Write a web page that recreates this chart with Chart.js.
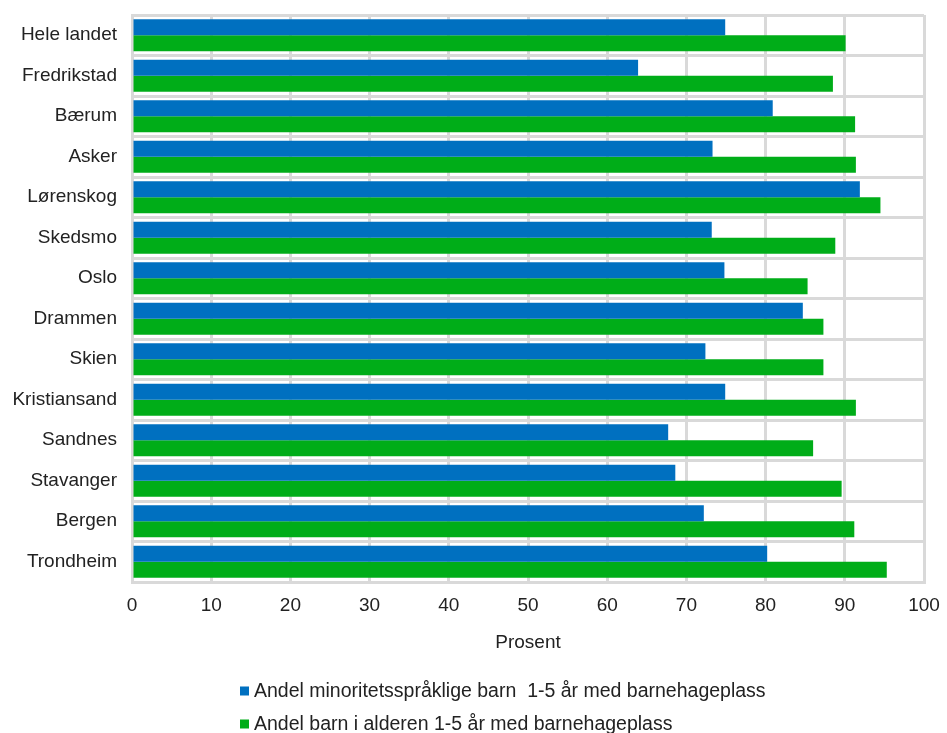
<!DOCTYPE html>
<html>
<head>
<meta charset="utf-8">
<script src="https://cdn.jsdelivr.net/npm/chart.js@4"></script>
<style>
html,body{margin:0;padding:0;background:#fff;}
#c{display:block;}
</style>
</head>
<body>
<canvas id="c" width="947" height="733"></canvas>
<script>
const categories = ['Hele landet','Fredrikstad','Bærum','Asker','Lørenskog','Skedsmo','Oslo','Drammen','Skien','Kristiansand','Sandnes','Stavanger','Bergen','Trondheim'];
const minorityShare = [74.9, 63.9, 80.9, 73.3, 91.9, 73.2, 74.8, 84.7, 72.4, 74.9, 67.7, 68.6, 72.2, 80.2];
const allShare = [90.1, 88.5, 91.3, 91.4, 94.5, 88.8, 85.3, 87.3, 87.3, 91.4, 86.0, 89.6, 91.2, 95.3];
const seriesLabels = ['Andel minoritetsspråklige barn  1-5 år med barnehageplass', 'Andel barn i alderen 1-5 år med barnehageplass'];
const seriesColors = ['#0070c0', '#00ad18'];
const axisTitle = 'Prosent';

const FONT = "'Liberation Sans', Arial, sans-serif";
const TEXT = '#222222';
const GRID = '#d9d9d9';

const legendPlugin = {
  id: 'leftLegend',
  afterDraw(chart) {
    const ctx = chart.ctx;
    ctx.save();
    ctx.font = '19.5px ' + FONT;
    ctx.textBaseline = 'middle';
    ctx.textAlign = 'left';
    const x0 = 240;
    const ys = [691, 724];
    chart.data.datasets.forEach((ds, i) => {
      ctx.fillStyle = ds.backgroundColor;
      ctx.fillRect(x0, ys[i] - 4.5, 9, 9);
      ctx.fillStyle = TEXT;
      ctx.fillText(ds.label, x0 + 14, ys[i] + 1);
    });
    ctx.restore();
  }
};

new Chart(document.getElementById('c'), {
  type: 'bar',
  data: {
    labels: categories,
    datasets: [
      { label: seriesLabels[0], data: minorityShare, backgroundColor: seriesColors[0], borderWidth: 0 },
      { label: seriesLabels[1], data: allShare, backgroundColor: seriesColors[1], borderWidth: 0 }
    ]
  },
  options: {
    indexAxis: 'y',
    responsive: false,
    devicePixelRatio: 1,
    animation: false,
    layout: { padding: { left: 0, right: 23, top: 15, bottom: 79 } },
    categoryPercentage: 0.79,
    barPercentage: 1.0,
    plugins: {
      legend: { display: false },
      tooltip: { enabled: false }
    },
    scales: {
      x: {
        min: 0, max: 100,
        ticks: { stepSize: 10, color: TEXT, font: { family: FONT, size: 19 }, padding: 12 },
        grid: { color: GRID, lineWidth: 3, drawTicks: false },
        border: { display: true, color: GRID, width: 3 },
        title: { display: true, text: axisTitle, color: TEXT, font: { family: FONT, size: 19 }, padding: { top: 0, bottom: 0 } },
        afterFit(s) { s.height = 72; s.paddingLeft = 0; s.paddingRight = 0; }
      },
      y: {
        ticks: { color: TEXT, font: { family: FONT, size: 19 }, padding: 15 },
        grid: { color: GRID, lineWidth: 3, drawTicks: false, offset: true },
        border: { display: true, color: GRID, width: 3 },
        afterFit(s) { s.width = 132; s.paddingTop = 0; s.paddingBottom = 0; }
      }
    }
  },
  plugins: [legendPlugin]
});
</script>
</body>
</html>
